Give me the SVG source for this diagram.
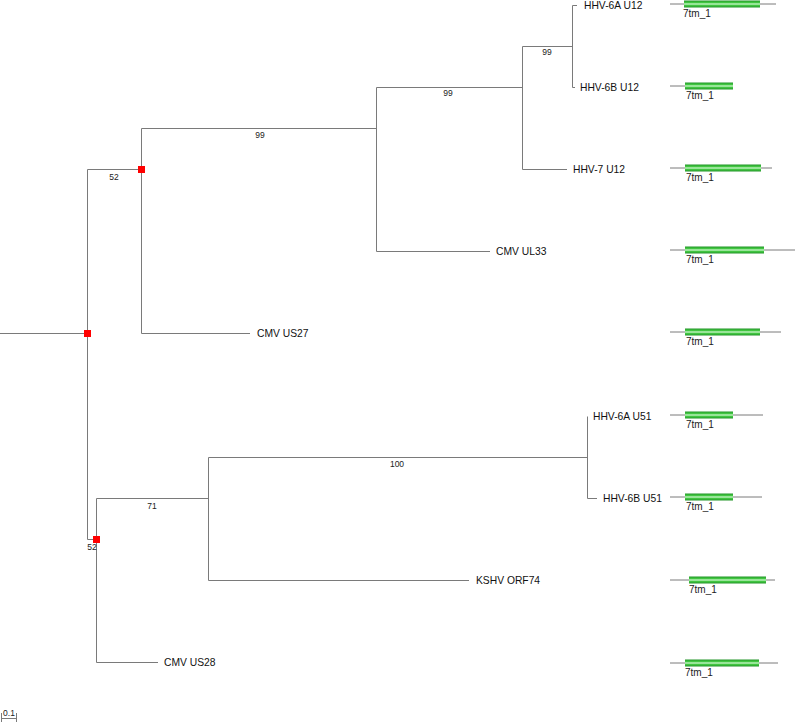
<svg xmlns="http://www.w3.org/2000/svg" width="796" height="723" viewBox="0 0 796 723">
<style>
.br{stroke:#7a7a7a;stroke-width:1;fill:none}
.tl{stroke:#7a7a7a;stroke-width:1}
.lf{font-family:"Liberation Sans",Arial,sans-serif;font-size:10.3px;fill:#111}
.bs{font-family:"Liberation Sans",Arial,sans-serif;font-size:8.5px;fill:#222;text-anchor:middle}
.dm{font-family:"Liberation Sans",Arial,sans-serif;font-size:10px;fill:#222}
.nd{fill:#ff0000}
.bar{fill:url(#g)}
</style>
<defs>
<linearGradient id="g" x1="0" y1="0" x2="0" y2="1">
<stop offset="0" stop-color="#24962a"/>
<stop offset="0.28" stop-color="#3ec43e"/>
<stop offset="0.5" stop-color="#c4f5c4"/>
<stop offset="0.72" stop-color="#3ec43e"/>
<stop offset="1" stop-color="#24962a"/>
</linearGradient>
</defs>
<g id="connectors">
<path class="br" d="M0 333.5H87.5M87.5 169.5V539.5"/>
<path class="br" d="M87.5 169.5H141.5M141.5 128.5V333.5M141.5 333.5H250"/>
<path class="br" d="M141.5 128.5H376.5M376.5 87.5V251.5M376.5 251.5H490"/>
<path class="br" d="M376.5 87.5H522.5M522.5 46.5V169.5M522.5 169.5H567"/>
<path class="br" d="M522.5 46.5H572.5M572.5 5.5V87.5M572.5 5.5H577M572.5 87.5H575"/>
<path class="br" d="M87.5 539.5H96.5M96.5 498.5V662.5M96.5 662.5H158"/>
<path class="br" d="M96.5 498.5H208.5M208.5 457.5V580.5M208.5 580.5H469"/>
<path class="br" d="M208.5 457.5H587.5M587.5 416.5V498.5M587.5 498.5H597"/>
</g>
<g id="nodes">
<rect class="nd" x="84" y="330" width="7" height="7"/>
<rect class="nd" x="138" y="166" width="7" height="7"/>
<rect class="nd" x="93" y="536" width="7" height="7"/>
</g>
<g id="support">
<text class="bs" x="114" y="180">52</text>
<text class="bs" x="260" y="138">99</text>
<text class="bs" x="448" y="96">99</text>
<text class="bs" x="547" y="55">99</text>
<text class="bs" x="397" y="467">100</text>
<text class="bs" x="152" y="509">71</text>
<text class="bs" x="92" y="550">52</text>
</g>
<g id="leaf-HHV-6A-U12"><text class="lf" x="584" y="9">HHV-6A U12</text></g>
<g id="leaf-HHV-6B-U12"><text class="lf" x="580" y="91">HHV-6B U12</text></g>
<g id="leaf-HHV-7-U12"><text class="lf" x="573" y="173">HHV-7 U12</text></g>
<g id="leaf-CMV-UL33"><text class="lf" x="496" y="255">CMV UL33</text></g>
<g id="leaf-CMV-US27"><text class="lf" x="257" y="337">CMV US27</text></g>
<g id="leaf-HHV-6A-U51"><text class="lf" x="593" y="420">HHV-6A U51</text></g>
<g id="leaf-HHV-6B-U51"><text class="lf" x="603" y="502">HHV-6B U51</text></g>
<g id="leaf-KSHV-ORF74"><text class="lf" x="476" y="584">KSHV ORF74</text></g>
<g id="leaf-CMV-US28"><text class="lf" x="164" y="666">CMV US28</text></g>
<g id="domains">
<g id="dom1"><line class="tl" x1="670" y1="4" x2="776" y2="4"/><rect class="bar" x="684" y="0.5" width="76" height="7"/><text class="dm" x="683" y="17">7tm_1</text></g>
<g id="dom2"><line class="tl" x1="670" y1="86" x2="685" y2="86"/><rect class="bar" x="685" y="82.5" width="48" height="7"/><text class="dm" x="686" y="99">7tm_1</text></g>
<g id="dom3"><line class="tl" x1="670" y1="168" x2="772" y2="168"/><rect class="bar" x="685" y="164.5" width="76" height="7"/><text class="dm" x="686" y="181">7tm_1</text></g>
<g id="dom4"><line class="tl" x1="670" y1="250" x2="795" y2="250"/><rect class="bar" x="685" y="246.5" width="79" height="7"/><text class="dm" x="686" y="263">7tm_1</text></g>
<g id="dom5"><line class="tl" x1="670" y1="332" x2="781" y2="332"/><rect class="bar" x="685" y="328.5" width="75" height="7"/><text class="dm" x="686" y="345">7tm_1</text></g>
<g id="dom6"><line class="tl" x1="670" y1="415" x2="763" y2="415"/><rect class="bar" x="685" y="411.5" width="48" height="7"/><text class="dm" x="686" y="428">7tm_1</text></g>
<g id="dom7"><line class="tl" x1="670" y1="497" x2="762" y2="497"/><rect class="bar" x="685" y="493.5" width="48" height="7"/><text class="dm" x="686" y="510">7tm_1</text></g>
<g id="dom8"><line class="tl" x1="670" y1="580" x2="775" y2="580"/><rect class="bar" x="689" y="576.5" width="77" height="7"/><text class="dm" x="689" y="593">7tm_1</text></g>
<g id="dom9"><line class="tl" x1="670" y1="663" x2="778" y2="663"/><rect class="bar" x="685" y="659.5" width="74" height="7"/><text class="dm" x="685" y="676">7tm_1</text></g>
</g>
<g id="scale">
<path class="br" d="M1.5 713V722M1.5 718.5H16.5M16.5 713V722"/>
<text class="bs" x="9" y="716">0.1</text>
</g>
</svg>
